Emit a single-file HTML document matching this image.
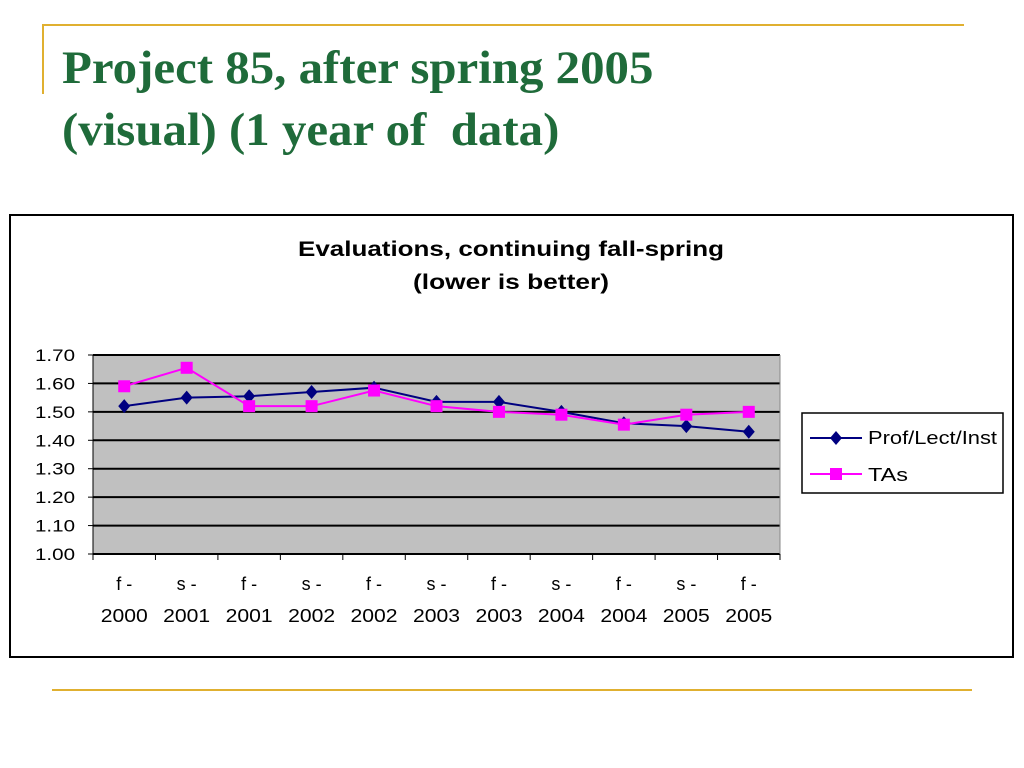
<!DOCTYPE html>
<html><head><meta charset="utf-8"><style>
body{margin:0;width:1024px;height:768px;background:#fff;position:relative;overflow:hidden;font-family:"Liberation Sans",sans-serif}
.t{position:absolute;left:62px;font-family:"Liberation Serif",serif;font-weight:bold;color:#1f6b3a;font-size:47px;line-height:62px;white-space:nowrap}
</style></head><body>
<div style="position:absolute;left:42px;top:24px;width:922px;height:2px;background:#e0b030"></div>
<div style="position:absolute;left:42px;top:24px;width:2px;height:70px;background:#e0b030"></div>
<div class="t" style="top:37px"><span style="display:inline-block;transform:scaleX(1.04);transform-origin:left">Project 85, after spring 2005</span><br><span style="display:inline-block;transform:scaleX(1.04);transform-origin:left">(visual) (1 year of&nbsp; data)</span></div>
<div style="position:absolute;left:52px;top:689px;width:920px;height:2px;background:#e0b030"></div>
<svg width="1024" height="768" style="position:absolute;left:0;top:0" id="svg"></svg>
<script>
const categoriesTop=["f -","s -","f -","s -","f -","s -","f -","s -","f -","s -","f -"];
const categoriesBottom=["2000","2001","2001","2002","2002","2003","2003","2004","2004","2005","2005"];
const profValues=[1.52,1.55,1.555,1.57,1.585,1.535,1.535,1.50,1.46,1.45,1.43];
const taValues=[1.59,1.655,1.52,1.52,1.575,1.52,1.50,1.49,1.455,1.49,1.50];
const yTicks=[1.00,1.10,1.20,1.30,1.40,1.50,1.60,1.70];
const NS="http://www.w3.org/2000/svg",svg=document.getElementById('svg');
function mk(t,a,p){const e=document.createElementNS(NS,t);for(const k in a)e.setAttribute(k,a[k]);(p||svg).appendChild(e);return e}
const L=93,R=780,T=355,B=554,ymin=1.0,ymax=1.7;
const n=categoriesTop.length,cw=(R-L)/n;
const xs=i=>L+cw*(i+0.5),ys=v=>B-(v-ymin)/(ymax-ymin)*(B-T);
let e;
e=mk('rect',{x:10,y:215,width:1003,height:442,fill:'#fff',stroke:'#000','stroke-width':2});

e=mk('text',{x:511,y:256,'text-anchor':'middle','font-size':21,'font-weight':'bold',textLength:426,lengthAdjust:'spacingAndGlyphs'});e.textContent='Evaluations, continuing fall-spring';

e=mk('text',{x:511,y:289,'text-anchor':'middle','font-size':21,'font-weight':'bold',textLength:196,lengthAdjust:'spacingAndGlyphs'});e.textContent='(lower is better)';

e=mk('rect',{x:L,y:T,width:R-L,height:B-T,fill:'#c0c0c0'});

yTicks.forEach(v=>{const y=ys(v);
 e=mk('line',{x1:L,x2:R,y1:y,y2:y,stroke:'#000','stroke-width':2});
 
 mk('line',{x1:L-5,x2:L,y1:y,y2:y,stroke:'#000'});
 e=mk('text',{x:75,y:y+6,'text-anchor':'end','font-size':17,textLength:40,lengthAdjust:'spacingAndGlyphs'});e.textContent=v.toFixed(2);
 });
mk('line',{x1:L,x2:L,y1:T,y2:B,stroke:'#000'});
mk('line',{x1:R,x2:R,y1:T,y2:B,stroke:'#888'});
for(let i=0;i<=n;i++){const x=L+cw*i;mk('line',{x1:x,x2:x,y1:B,y2:B+6,stroke:'#000'});}
categoriesTop.forEach((c,i)=>{
 e=mk('text',{x:xs(i),y:590,'text-anchor':'middle','font-size':18});e.textContent=c;
 
 e=mk('text',{x:xs(i),y:622,'text-anchor':'middle','font-size':18,textLength:47,lengthAdjust:'spacingAndGlyphs'});e.textContent=categoriesBottom[i];
 });
function series(vals,col,shape,name){
 e=mk('polyline',{points:vals.map((v,i)=>xs(i)+','+ys(v)).join(' '),fill:'none',stroke:col,'stroke-width':2});
 
 vals.forEach((v,i)=>{const x=xs(i),y=ys(v);
  if(shape==='d')e=mk('polygon',{points:`${x},${y-7} ${x+6},${y} ${x},${y+7} ${x-6},${y}`,fill:col});
  else e=mk('rect',{x:x-6,y:y-6,width:12,height:12,fill:col});
  });
}
series(profValues,'#000080','d','prof');
series(taValues,'#ff00ff','s','ta');
e=mk('rect',{x:802,y:413,width:201,height:80,fill:'#fff',stroke:'#000','stroke-width':1.5});

mk('line',{x1:810,x2:862,y1:438,y2:438,stroke:'#000080','stroke-width':2});
mk('polygon',{points:'836,431 842,438 836,445 830,438',fill:'#000080'});
e=mk('text',{x:868,y:444,'font-size':18,textLength:129,lengthAdjust:'spacingAndGlyphs'});e.textContent='Prof/Lect/Inst';

mk('line',{x1:810,x2:862,y1:474,y2:474,stroke:'#ff00ff','stroke-width':2});
mk('rect',{x:830,y:468,width:12,height:12,fill:'#ff00ff'});
e=mk('text',{x:868,y:481,'font-size':18,textLength:40,lengthAdjust:'spacingAndGlyphs'});e.textContent='TAs';

</script>
</body></html>
